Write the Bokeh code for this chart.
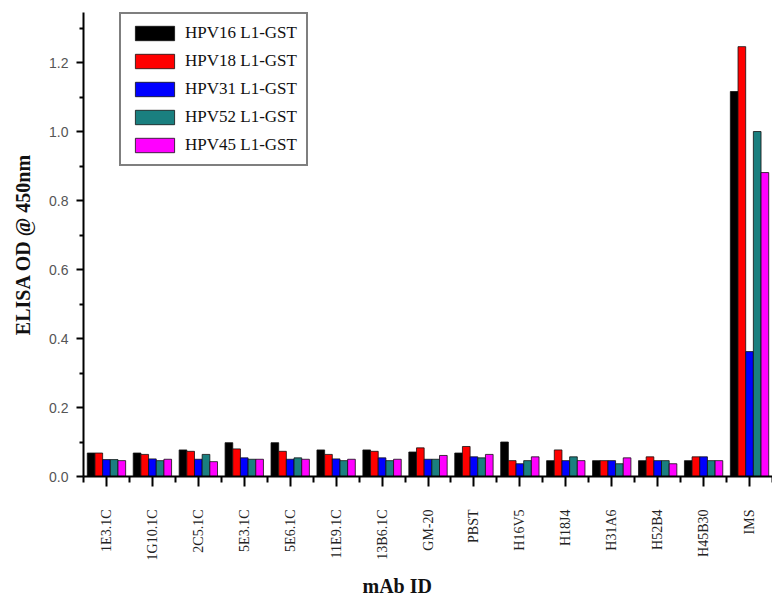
import math
from bokeh.plotting import figure
from bokeh.models import ColumnDataSource, FixedTicker, Legend, LegendItem, CustomJSTickFormatter, Title
from bokeh.transform import dodge
from bokeh.embed import file_html
from bokeh.resources import INLINE

categories = ["1E3.1C", "1G10.1C", "2C5.1C", "5E3.1C", "5E6.1C", "11E9.1C", "13B6.1C",
              "GM-20", "PBST", "H16V5", "H18J4", "H31A6", "H52B4", "H45B30", "IMS"]
hpv16 = [0.068, 0.068, 0.077, 0.098, 0.098, 0.077, 0.077, 0.071, 0.068, 0.100, 0.046, 0.046, 0.046, 0.046, 1.116]
hpv18 = [0.068, 0.064, 0.073, 0.080, 0.073, 0.064, 0.073, 0.083, 0.087, 0.046, 0.077, 0.046, 0.057, 0.057, 1.246]
hpv31 = [0.049, 0.051, 0.050, 0.054, 0.050, 0.051, 0.054, 0.050, 0.057, 0.037, 0.046, 0.046, 0.046, 0.057, 0.362]
hpv52 = [0.049, 0.046, 0.064, 0.050, 0.054, 0.046, 0.046, 0.050, 0.054, 0.046, 0.057, 0.037, 0.046, 0.046, 1.000]
hpv45 = [0.046, 0.050, 0.043, 0.050, 0.050, 0.050, 0.050, 0.061, 0.064, 0.057, 0.046, 0.054, 0.037, 0.046, 0.881]
series_names = ["HPV16 L1-GST", "HPV18 L1-GST", "HPV31 L1-GST", "HPV52 L1-GST", "HPV45 L1-GST"]
series_keys = ["hpv16", "hpv18", "hpv31", "hpv52", "hpv45"]
colors = ["#000000", "#ff0000", "#0000ff", "#1a7f7f", "#ff00ff"]
y_ticks = [0.0, 0.2, 0.4, 0.6, 0.8, 1.0, 1.2]
y_minor_ticks = [0.1, 0.3, 0.5, 0.7, 0.9, 1.1, 1.3]

idx = list(range(len(categories)))
source = ColumnDataSource(dict(x=idx, hpv16=hpv16, hpv18=hpv18, hpv31=hpv31, hpv52=hpv52, hpv45=hpv45))

p = figure(width=772, height=608, output_backend="svg", toolbar_location=None,
           x_range=(-0.5, len(categories) - 0.5), y_range=(0, 1.345),
           min_border_left=83, min_border_right=0, min_border_top=12, min_border_bottom=132)
p.outline_line_color = None
p.xgrid.visible = False
p.ygrid.visible = False
p.background_fill_color = "white"
p.border_fill_color = "white"

bw = 0.167
offsets = [-2 * bw, -bw, 0, bw, 2 * bw]
renderers = []
for key, col, off in zip(series_keys, colors, offsets):
    r = p.vbar(x=dodge("x", off), top=key, width=bw, source=source,
               fill_color=col, line_color="#111111", line_width=0.8)
    renderers.append(r)

legend = Legend(items=[LegendItem(label=n, renderers=[r]) for n, r in zip(series_names, renderers)],
                location=(36, 310))
legend.glyph_width = 49
legend.glyph_height = 18
legend.label_height = 18
legend.spacing = 8
legend.padding = 9
legend.margin = 0
legend.label_standoff = 6
legend.label_text_font = "Liberation Serif"
legend.label_text_font_size = "17px"
legend.label_text_color = "#111111"
legend.border_line_color = "black"
legend.border_line_width = 2
legend.background_fill_alpha = 1
p.add_layout(legend, "center")

# X axis
p.xaxis.ticker = FixedTicker(ticks=idx, minor_ticks=[i - 0.5 for i in idx] + [len(idx) - 0.5])
p.xaxis.major_label_overrides = {i: c for i, c in enumerate(categories)}
p.xaxis.major_label_orientation = math.pi / 2
p.xaxis.major_label_text_font = "Liberation Serif"
p.xaxis.major_label_text_font_size = "14px"
p.xaxis.major_label_text_color = "#222222"
p.xaxis.major_label_standoff = 23
p.xaxis.major_tick_out = 10
p.xaxis.major_tick_in = 0
p.xaxis.minor_tick_out = 6
p.xaxis.minor_tick_in = 0
p.xaxis.axis_line_width = 2
p.xaxis.major_tick_line_width = 2
p.xaxis.minor_tick_line_width = 2

xtitle = Title(text="mAb ID", align="left", offset=279, standoff=18,
               text_font="Liberation Serif", text_font_style="bold",
               text_font_size="20px", text_color="#111111")
p.add_layout(xtitle, "below")

# Y axis
p.yaxis.ticker = FixedTicker(ticks=y_ticks, minor_ticks=y_minor_ticks)
p.yaxis.formatter = CustomJSTickFormatter(code="return tick.toFixed(1);")
p.yaxis.major_label_text_font = "Liberation Sans"
p.yaxis.major_label_text_font_size = "14px"
p.yaxis.major_label_text_color = "#555555"
p.yaxis.major_label_standoff = 8
p.yaxis.major_tick_out = 7
p.yaxis.major_tick_in = 0
p.yaxis.minor_tick_out = 4
p.yaxis.minor_tick_in = 0
p.yaxis.axis_line_width = 2
p.yaxis.major_tick_line_width = 2
p.yaxis.minor_tick_line_width = 2
p.yaxis.axis_label = "ELISA OD @ 450nm"
p.yaxis.axis_label_text_font = "Liberation Serif"
p.yaxis.axis_label_text_font_style = "bold"
p.yaxis.axis_label_text_font_size = "20px"
p.yaxis.axis_label_text_color = "#111111"
p.yaxis.axis_label_standoff = 12

open("out.html", "w").write(file_html(p, INLINE))
